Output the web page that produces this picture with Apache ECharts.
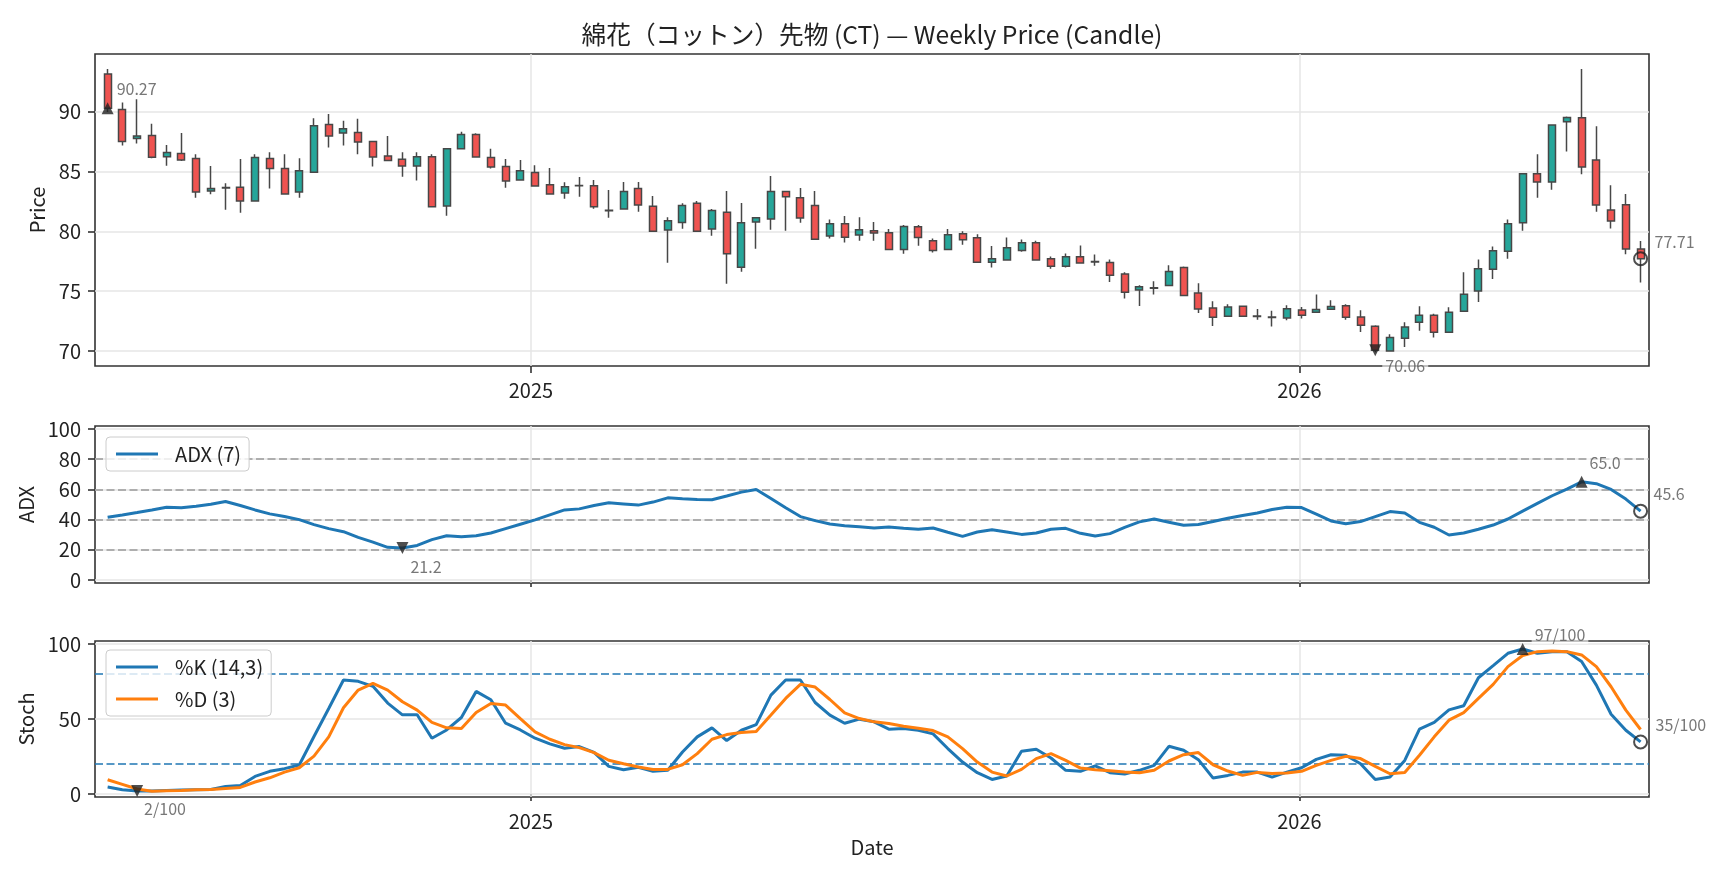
<!DOCTYPE html>
<html>
<head>
<meta charset="utf-8">
<title>CT weekly candle</title>
<script src="https://cdn.jsdelivr.net/npm/echarts@6/dist/echarts.min.js"></script>
<style>
html, body { margin: 0; padding: 0; background: #fff; }
#chart { width: 1728px; height: 878px; }
</style>
</head>
<body>
<div id="chart"></div>
<script>
// 週足（金曜）
const dates = [
  "2024-06-14","2024-06-21","2024-06-28","2024-07-05","2024-07-12","2024-07-19","2024-07-26","2024-08-02","2024-08-09","2024-08-16",
  "2024-08-23","2024-08-30","2024-09-06","2024-09-13","2024-09-20","2024-09-27","2024-10-04","2024-10-11","2024-10-18","2024-10-25",
  "2024-11-01","2024-11-08","2024-11-15","2024-11-22","2024-11-29","2024-12-06","2024-12-13","2024-12-20","2024-12-27","2025-01-03",
  "2025-01-10","2025-01-17","2025-01-24","2025-01-31","2025-02-07","2025-02-14","2025-02-21","2025-02-28","2025-03-07","2025-03-14",
  "2025-03-21","2025-03-28","2025-04-04","2025-04-11","2025-04-18","2025-04-25","2025-05-02","2025-05-09","2025-05-16","2025-05-23",
  "2025-05-30","2025-06-06","2025-06-13","2025-06-20","2025-06-27","2025-07-04","2025-07-11","2025-07-18","2025-07-25","2025-08-01",
  "2025-08-08","2025-08-15","2025-08-22","2025-08-29","2025-09-05","2025-09-12","2025-09-19","2025-09-26","2025-10-03","2025-10-10",
  "2025-10-17","2025-10-24","2025-10-31","2025-11-07","2025-11-14","2025-11-21","2025-11-28","2025-12-05","2025-12-12","2025-12-19",
  "2025-12-26","2026-01-02","2026-01-09","2026-01-16","2026-01-23","2026-01-30","2026-02-06","2026-02-13","2026-02-20","2026-02-27",
  "2026-03-06","2026-03-13","2026-03-20","2026-03-27","2026-04-03","2026-04-10","2026-04-17","2026-04-24","2026-05-01","2026-05-08",
  "2026-05-15","2026-05-22","2026-05-29","2026-06-05","2026-06-12"
];
const opens = [
  93.12,90.17,87.74,87.99,86.23,86.49,86.07,83.36,83.62,83.67, 82.52,86.07,85.23,83.28,84.92,88.91,88.21,88.24,87.49,86.29,
  86.01,85.45,86.23,82.10,86.88,88.08,86.15,85.40,84.28,84.90, 83.89,83.19,83.79,83.81,81.76,81.85,83.56,82.08,80.10,80.74,
  82.33,80.18,81.58,77.00,80.77,81.02,83.31,82.80,82.16,79.60, 80.63,79.68,80.04,79.87,78.48,80.38,79.21,78.48,79.79,79.46,
  77.42,77.59,78.40,79.04,77.70,77.08,77.87,77.47,77.39,76.44, 75.10,75.25,75.47,76.97,74.85,73.60,72.90,73.74,72.92,72.80,
  72.76,73.43,73.23,73.49,73.79,72.84,72.07,70.00,71.06,72.40, 72.98,71.56,73.32,75.02,76.83,78.34,80.71,84.81,84.11,89.14,
  89.47,85.96,81.77,82.22,78.51
];
const closes = [
  90.27,87.49,87.96,86.18,86.57,85.96,83.28,83.56,83.66,82.52, 86.15,85.23,83.11,85.06,88.80,87.96,88.55,87.46,86.21,85.90,
  85.45,86.23,82.05,86.88,88.08,86.21,85.37,84.20,85.06,83.78, 83.11,83.72,83.83,82.05,81.72,83.31,82.19,80.01,80.88,82.16,
  80.01,81.74,78.12,80.71,81.13,83.31,82.89,81.10,79.34,80.63, 79.51,80.13,79.85,78.48,80.40,79.48,78.40,79.71,79.29,77.42,
  77.70,78.62,79.04,77.59,77.08,77.87,77.36,77.43,76.33,74.91, 75.36,75.29,76.64,74.63,73.51,72.82,73.68,72.90,72.88,72.84,
  73.54,72.98,73.46,73.71,72.82,72.15,70.06,71.12,72.01,72.98, 71.56,73.23,74.74,76.86,78.37,80.63,84.81,84.11,88.88,89.50,
  85.37,82.19,80.85,78.51,77.71
];
const lows = [
  89.95,87.15,87.32,86.10,85.48,85.87,82.80,83.08,81.80,81.55, 82.52,83.56,83.11,82.80,84.92,86.99,87.15,86.43,85.40,85.90,
  84.56,84.23,81.99,81.30,86.88,86.21,85.23,83.64,84.28,83.78, 83.11,82.72,82.89,81.88,81.13,81.85,81.63,80.01,77.37,80.21,
  80.01,79.62,75.61,76.61,78.54,80.13,80.04,80.71,79.34,79.40, 79.07,79.21,79.21,78.48,78.12,78.79,78.23,78.48,78.87,77.42,
  76.97,77.59,78.28,77.59,76.86,76.97,77.36,77.11,75.77,74.38, 73.77,74.71,75.47,74.63,73.18,72.09,72.90,72.90,72.62,72.04,
  72.57,72.71,73.23,73.49,72.62,71.59,69.90,70.00,70.33,71.70, 71.12,71.56,73.32,74.10,76.02,77.70,80.04,82.80,83.47,86.65,
  84.76,81.63,80.24,78.09,75.72
];
const highs = [
  93.54,90.75,91.03,88.97,87.21,88.21,86.43,85.45,84.00,86.04, 86.43,86.60,86.43,86.10,89.44,89.78,89.22,89.39,87.50,87.96,
  86.60,86.60,86.43,86.88,88.30,88.19,86.88,86.04,85.96,85.51, 85.29,84.09,84.53,84.28,83.44,84.11,84.11,82.94,81.18,82.33,
  82.52,81.85,83.36,82.36,81.13,84.62,83.31,83.61,83.36,80.99, 81.27,81.18,80.77,80.18,80.52,80.52,79.40,80.18,80.01,79.76,
  78.76,79.48,79.32,79.21,77.90,78.14,78.82,78.06,77.64,76.58, 75.50,75.83,77.17,77.06,75.66,74.16,73.90,73.79,73.51,73.37,
  73.82,73.68,74.71,74.24,73.90,73.40,72.15,71.40,72.40,73.74, 73.12,73.65,76.58,77.64,78.73,80.99,84.81,86.43,88.88,89.58,
  93.54,88.77,83.84,83.11,79.18
];
const adx = [
  41.6,43.1,44.7,46.4,48.2,47.8,48.9,50.2,52.0,49.3, 46.4,43.8,42.0,40.0,36.7,34.0,32.0,28.2,25.1,21.6,
  21.2,22.9,26.7,29.3,28.7,29.3,31.1,34.0,36.9,39.8, 43.1,46.4,47.1,49.3,51.1,50.4,49.6,51.6,54.4,53.8,
  53.3,53.1,55.6,58.2,60.0,54.0,47.8,42.0,39.3,37.1, 36.0,35.3,34.4,35.1,34.2,33.6,34.4,31.6,28.9,31.8,
  33.3,31.8,30.2,31.1,33.6,34.2,30.9,29.1,30.7,34.9, 38.5,40.4,38.2,36.2,36.7,38.7,40.9,42.7,44.4,46.7,
  48.2,48.0,43.6,39.1,37.3,38.7,42.0,45.3,44.4,38.2, 34.9,29.8,31.1,33.6,36.4,40.4,45.6,50.7,55.8,60.2,
  65.0,63.8,60.0,53.6,45.6
];
const stochK = [
  4.6,2.8,2.0,2.0,2.4,2.6,2.8,3.0,5.0,5.7, 11.7,15.1,16.9,19.3,38.3,57.0,76.0,75.1,71.8,60.6,
  52.8,52.8,37.2,42.7,51.0,68.4,62.8,47.2,42.7,37.2, 33.4,30.5,31.6,27.8,18.4,16.2,17.8,15.1,15.8,28.0,
  38.1,44.1,35.6,42.5,46.3,65.9,76.0,76.0,61.0,52.6, 47.2,49.9,48.1,43.2,43.6,42.5,40.1,30.3,21.3,14.2,
  9.7,12.0,28.5,29.8,24.0,15.8,15.1,18.7,14.2,13.3, 15.8,19.1,31.8,29.2,22.9,10.6,12.4,14.6,14.6,11.3,
  14.6,17.5,23.1,26.2,25.8,20.2,9.7,11.3,22.4,43.2, 47.7,56.1,58.8,77.5,85.6,93.8,96.7,93.8,94.9,94.9,
  88.3,72.6,53.2,42.5,34.7
];
const stochD = [
  9.5,6.4,3.3,1.9,2.2,2.4,2.8,3.0,3.7,4.4, 8.0,10.8,14.6,17.5,25.3,38.1,57.5,69.3,73.8,69.3,
  61.5,55.9,47.7,44.1,43.6,54.3,60.4,59.3,50.3,41.4, 36.5,32.9,30.9,27.6,22.5,20.2,18.0,16.4,16.4,19.5,
  26.9,36.5,39.6,41.0,41.6,52.6,63.7,73.1,71.3,63.0, 54.1,50.3,48.1,47.0,45.2,43.9,42.3,38.1,30.3,21.3,
  14.6,12.0,16.4,23.6,26.9,22.4,17.3,16.2,15.5,14.6, 14.2,15.8,22.0,26.2,27.6,19.5,15.3,12.4,14.4,13.7,
  14.0,15.1,19.1,22.4,25.1,23.6,18.4,13.5,14.4,25.8, 38.1,49.2,54.3,63.7,73.1,84.9,92.3,94.9,95.4,94.9,
  92.7,84.9,71.5,55.9,43.0
];
const priceTicks = [70, 75, 80, 85, 90];
const adxTicks = [0, 20, 40, 60, 80, 100];
const stochTicks = [0, 50, 100];
const adxLevels = [20, 40, 60, 80];
const stochLevels = [20, 80];
const yearTicks = ["2025-01-01", "2026-01-01"];

const font = "'Noto Sans CJK JP', 'Noto Sans', sans-serif";
const upColor = "#26a69a";
const downColor = "#ef5350";
const blue = "#1f77b4";
const orange = "#ff7f0e";

function ts(d) {
  return +new Date(d + "T00:00:00");
}
const xMin = ts("2024-06-08");
const xMax = ts("2026-06-16");
const yearVals = yearTicks.map(ts);
const times = dates.map(ts);

const candleData = times.map((t, i) => [t, opens[i], closes[i], lows[i], highs[i]]);
const adxData = times.map((t, i) => [t, adx[i]]);
const kData = times.map((t, i) => [t, stochK[i]]);
const dData = times.map((t, i) => [t, stochD[i]]);

function argMax(arr) {
  let k = 0;
  arr.forEach((v, i) => { if (v > arr[k]) k = i; });
  return k;
}
function argMin(arr) {
  let k = 0;
  arr.forEach((v, i) => { if (v < arr[k]) k = i; });
  return k;
}
const last = dates.length - 1;

// x軸は日時を数値として扱う（年の目盛りだけ出す）
function timeAxis(gridIndex, showLabel, name) {
  return {
    type: "value",
    gridIndex: gridIndex,
    min: xMin,
    max: xMax,
    axisLine: { show: false },
    axisTick: {
      show: true,
      customValues: yearVals,
      length: 7,
      lineStyle: { color: "#333", width: 1.6 }
    },
    axisLabel: {
      show: showLabel,
      customValues: yearVals,
      formatter: v => String(new Date(v).getFullYear()),
      fontSize: 20,
      color: "#222",
      margin: 14,
      fontFamily: font
    },
    splitLine: { show: false },
    name: name || "",
    nameLocation: "middle",
    nameGap: 40,
    nameTextStyle: { fontSize: 20, color: "#222", fontFamily: font }
  };
}

function valueAxis(gridIndex, min, max, ticks, name, gap, splitNumber) {
  return {
    type: "value",
    gridIndex: gridIndex,
    min: min,
    max: max,
    splitNumber: splitNumber,
    axisLine: { show: false },
    axisTick: {
      show: true,
      customValues: ticks,
      length: 7,
      lineStyle: { color: "#333", width: 1.6 }
    },
    axisLabel: {
      customValues: ticks,
      fontSize: 20,
      color: "#222",
      margin: 14,
      fontFamily: font
    },
    splitLine: { show: true, lineStyle: { color: "#e6e6e6", width: 1.5 } },
    name: name,
    nameLocation: "middle",
    nameGap: gap,
    nameTextStyle: { fontSize: 20, color: "#222", fontFamily: font }
  };
}

// 年の縦グリッド
function yearLines() {
  return {
    silent: true,
    symbol: "none",
    z: 1,
    animation: false,
    label: { show: false },
    lineStyle: { color: "#e6e6e6", width: 1.5, type: "solid" },
    data: yearVals.map(v => ({ xAxis: v }))
  };
}
function levelLines(levels, color) {
  return {
    silent: true,
    symbol: "none",
    z: 1,
    animation: false,
    label: { show: false },
    lineStyle: { color: color, width: 1.6, type: [8, 3.5] },
    data: levels.map(v => ({ yAxis: v }))
  };
}

function marker(axis, i, value, kind, text, offset) {
  const tri = kind !== "circle";
  return {
    type: "scatter",
    xAxisIndex: axis,
    yAxisIndex: axis,
    z: 6,
    silent: true,
    symbol: tri ? "triangle" : "circle",
    symbolRotate: kind === "down" ? 180 : 0,
    symbolSize: tri ? [12, 12] : 13,
    itemStyle: tri
      ? { color: "#222" }
      : { color: "rgba(0,0,0,0)", borderColor: "#222", borderWidth: 2 },
    label: {
      show: true,
      position: "inside",
      align: "left",
      verticalAlign: "middle",
      offset: offset,
      formatter: text,
      fontSize: 16,
      color: "#555",
      fontFamily: font,
      backgroundColor: "rgba(255,255,255,0.75)",
      padding: [1, 3]
    },
    data: [[times[i], value]]
  };
}

const iMaxC = argMax(closes), iMinC = argMin(closes);
const iMaxA = argMax(adx), iMinA = argMin(adx);
const iMaxK = argMax(stochK), iMinK = argMin(stochK);

const legendBase = {
  orient: "vertical",
  selectedMode: false,
  icon: "rect",
  itemWidth: 42,
  itemHeight: 3,
  itemGap: 10,
  padding: [6, 8, 6, 10],
  backgroundColor: "rgba(255,255,255,0.8)",
  borderColor: "#ccc",
  borderWidth: 1,
  borderRadius: 4,
  textStyle: { fontSize: 20, color: "#222", fontFamily: font, lineHeight: 22, padding: [0, 0, 0, 12] }
};

const chart = echarts.init(document.getElementById("chart"));
chart.setOption({
  animation: false,
  backgroundColor: "#fff",
  textStyle: { fontFamily: font },
  title: {
    text: "綿花（コットン）先物 (CT) — Weekly Price (Candle)",
    left: 867,
    top: 17,
    textAlign: "center",
    textStyle: { fontSize: 24.7, fontWeight: "normal", color: "#222", fontFamily: font }
  },
  legend: [
    Object.assign({}, legendBase, { data: ["ADX (7)"], left: 106, top: 437 }),
    Object.assign({}, legendBase, { data: ["%K (14,3)", "%D (3)"], left: 106, top: 650 })
  ],
  grid: [
    { left: 95, top: 54, width: 1554, height: 312, show: true, borderColor: "#333", borderWidth: 1.6 },
    { left: 95, top: 426, width: 1554, height: 157, show: true, borderColor: "#333", borderWidth: 1.6 },
    { left: 95, top: 641, width: 1554, height: 156, show: true, borderColor: "#333", borderWidth: 1.6 }
  ],
  xAxis: [
    timeAxis(0, true),
    timeAxis(1, false),
    timeAxis(2, true, "Date")
  ],
  yAxis: [
    valueAxis(0, 68.75, 94.8, priceTicks, "Price", 37),
    valueAxis(1, -2, 102, adxTicks, "ADX", 48),
    valueAxis(2, -2, 102, stochTicks, "Stoch", 48, 2)
  ],
  series: [
    {
      name: "Price",
      type: "candlestick",
      xAxisIndex: 0,
      yAxisIndex: 0,
      barWidth: 7.5,
      itemStyle: {
        color: upColor,
        color0: downColor,
        borderColor: "#474747",
        borderColor0: "#474747",
        borderWidth: 1.5
      },
      markLine: yearLines(),
      data: candleData
    },
    {
      name: "ADX (7)",
      type: "line",
      xAxisIndex: 1,
      yAxisIndex: 1,
      showSymbol: false,
      symbol: "none",
      color: blue,
      lineStyle: { color: blue, width: 3 },
      markLine: levelLines(adxLevels, "#999"),
      data: adxData
    },
    {
      name: "adx-grid",
      type: "line",
      xAxisIndex: 1,
      yAxisIndex: 1,
      symbol: "none",
      lineStyle: { width: 0 },
      markLine: yearLines(),
      data: []
    },
    {
      name: "%K (14,3)",
      type: "line",
      xAxisIndex: 2,
      yAxisIndex: 2,
      showSymbol: false,
      symbol: "none",
      color: blue,
      lineStyle: { color: blue, width: 3 },
      markLine: levelLines(stochLevels, blue),
      data: kData
    },
    {
      name: "%D (3)",
      type: "line",
      xAxisIndex: 2,
      yAxisIndex: 2,
      showSymbol: false,
      symbol: "none",
      color: orange,
      lineStyle: { color: orange, width: 3 },
      markLine: yearLines(),
      data: dData
    },
    marker(0, iMaxC, closes[iMaxC], "up", p => p.value[1].toFixed(2), [6, -19]),
    marker(0, iMinC, closes[iMinC], "down", p => p.value[1].toFixed(2), [7, 16]),
    marker(0, last, closes[last], "circle", p => p.value[1].toFixed(2), [11, -17]),
    marker(1, iMinA, adx[iMinA], "down", p => p.value[1].toFixed(1), [5, 19]),
    marker(1, iMaxA, adx[iMaxA], "up", p => p.value[1].toFixed(1), [5, -19]),
    marker(1, last, adx[last], "circle", p => p.value[1].toFixed(1), [10, -17]),
    marker(2, iMinK, stochK[iMinK], "down", p => Math.round(p.value[1]) + "/100", [4, 18]),
    marker(2, iMaxK, stochK[iMaxK], "up", p => Math.round(p.value[1]) + "/100", [9, -14]),
    marker(2, last, stochK[last], "circle", p => Math.round(p.value[1]) + "/100", [12, -17])
  ]
});
</script>
</body>
</html>
